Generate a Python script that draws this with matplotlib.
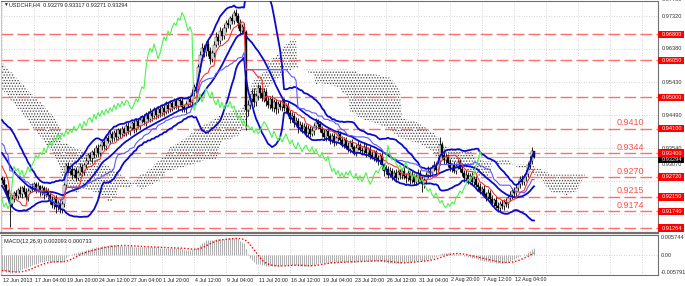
import numpy as np
import pandas as pd
import matplotlib
matplotlib.use('Agg')
import matplotlib.pyplot as plt
import matplotlib.transforms as mtrans
from matplotlib.patches import Rectangle

# 4H closes in pips (0.9262 -> 9262). pre_* = bars before the visible window (indicator warm-up)
pre_close = [9712, 9725, 9706, 9731, 9718, 9694, 9702, 9688, 9709, 9697,
             9684, 9695, 9672, 9688, 9665, 9676, 9658, 9671, 9649, 9662,
             9645, 9656, 9634, 9648, 9627, 9639, 9618, 9630, 9612, 9621,
             9604, 9615, 9592, 9601, 9583, 9594, 9571, 9580, 9562, 9570,
             9552, 9561, 9540, 9548, 9529, 9537, 9516, 9524, 9505, 9511,
             9492, 9498, 9476, 9483, 9462, 9469, 9447, 9453, 9431, 9438,
             9416, 9422, 9401, 9407, 9386, 9391, 9370, 9376, 9354, 9360,
             9338, 9344, 9322, 9328, 9306, 9311, 9291, 9296, 9278, 9270]
pre_up = [8, 12, 9, 14, 10, 7, 11, 9, 13, 8,
          10, 7, 12, 9, 8, 11, 7, 10, 9, 12,
          8, 11, 9, 7, 10, 12, 8, 9, 11, 7,
          10, 8, 12, 9, 7, 11, 10, 8, 9, 12,
          9, 7, 11, 10, 8, 12, 9, 7, 10, 11,
          8, 12, 9, 11, 7, 10, 12, 8, 9, 11,
          10, 8, 11, 9, 12, 7, 10, 9, 8, 11,
          9, 12, 8, 10, 11, 7, 9, 12, 10, 8]
pre_dn = [10, 8, 11, 9, 12, 7, 10, 9, 8, 11,
          9, 12, 8, 10, 11, 7, 9, 12, 10, 8,
          11, 9, 7, 10, 12, 8, 9, 11, 7, 10,
          8, 12, 9, 7, 11, 10, 8, 9, 12, 10,
          7, 11, 10, 8, 12, 9, 7, 10, 11, 8,
          12, 9, 11, 7, 10, 12, 8, 9, 11, 10,
          8, 11, 9, 12, 7, 10, 9, 8, 11, 9,
          12, 8, 10, 11, 7, 9, 12, 10, 8, 9]

close = [9262, 9248, 9231, 9214,
         9196, 9208, 9225,
         9218, 9236, 9224, 9241, 9229, 9215, 9232, 9244,
         9238, 9251, 9236, 9245, 9228, 9240, 9222, 9233, 9219,
         9205, 9192, 9210, 9186, 9198, 9181, 9194,
         9248, 9302, 9290,
         9296, 9278, 9291, 9270, 9284, 9301, 9287, 9306,
         9318, 9334, 9325, 9342, 9336, 9355, 9341, 9360,
         9372, 9361, 9384, 9376, 9395, 9382, 9398, 9387, 9405, 9394,
         9408, 9399, 9417, 9403, 9412, 9425, 9410, 9431, 9418, 9436,
         9442, 9428, 9451, 9437, 9456, 9445, 9462, 9449, 9466, 9454,
         9470, 9459, 9478, 9465, 9483, 9472, 9488, 9476, 9491,
         9488, 9472, 9466, 9480, 9495, 9486,
         9512, 9530, 9524,
         9585, 9621,
         9640, 9628, 9652, 9633, 9610, 9625,
         9650, 9672, 9661, 9689, 9676,
         9698, 9712, 9705, 9726, 9719,
         9742, 9731,
         9712, 9690, 9701,
         9685,
         9463,
         9478, 9495, 9510, 9486, 9502,
         9525, 9512, 9498, 9515, 9490,
         9478, 9494, 9470, 9485, 9466,
         9480, 9472, 9488, 9468, 9475,
         9455, 9438, 9446, 9425, 9433, 9412, 9420,
         9408, 9415, 9398, 9410, 9395, 9402, 9418,
         9430, 9422, 9410,
         9398, 9385, 9402, 9390, 9376, 9388, 9372, 9384, 9395, 9379,
         9366, 9378, 9361, 9352, 9370, 9358, 9344, 9356, 9363, 9350,
         9345, 9358, 9340, 9352, 9336, 9329, 9342, 9325, 9318, 9331,
         9305, 9288, 9296, 9279, 9290, 9274, 9284, 9270, 9286, 9277,
         9290, 9275, 9268, 9282, 9263, 9276, 9259, 9271, 9284, 9266, 9251, 9262,
         9278, 9290, 9283, 9297, 9305, 9292,
         9318, 9362, 9335, 9320, 9328,
         9312, 9298, 9306, 9290, 9302, 9315, 9296,
         9284, 9270, 9279, 9262, 9274, 9258, 9266, 9250,
         9242, 9231, 9238, 9222, 9215, 9226, 9210,
         9198, 9205, 9190, 9184, 9196, 9188, 9201, 9194,
         9212, 9220, 9232, 9225, 9240,
         9252, 9266, 9258, 9272, 9280,
         9305, 9318,
         9345, 9329.4]
# wick beyond the body, pips
wick_up = [6, 9, 5, 7,
           8, 10, 6,
           9, 5, 11, 6, 8, 12, 7, 5,
           10, 6, 8, 12, 5, 9, 7, 11, 6,
           8, 12, 6, 9, 7, 10, 8,
           6, 9, 14,
           8, 11, 6, 9, 7, 12, 8, 6,
           10, 7, 9, 6, 12, 8, 11, 7,
           9, 6, 10, 8, 12, 7, 9, 11, 6, 8,
           10, 7, 9, 12, 6, 8, 11, 7, 9, 10,
           8, 11, 6, 9, 12, 7, 10, 8, 6, 11,
           9, 7, 12, 8, 10, 6, 11, 9, 7,
           8, 12, 6, 10, 7, 9,
           11, 8, 10,
           9, 12,
           14, 10, 8, 12, 9, 11,
           10, 13, 8, 11, 9,
           12, 8, 10, 7, 11,
           8, 10,
           9, 12, 8,
           10,
           6,
           14, 10, 12, 16, 9,
           12, 9, 14, 10, 8,
           11, 8, 13, 9, 10,
           9, 12, 7, 10, 8,
           11, 8, 12, 9, 10, 7, 12,
           9, 11, 8, 10, 7, 12, 9,
           10, 8, 11,
           9, 12, 7, 10, 8, 11, 9, 6, 10, 8,
           11, 7, 9, 12, 8, 10, 6, 9, 11, 7,
           8, 10, 12, 7, 9, 11, 6, 8, 10, 9,
           12, 8, 10, 7, 11, 9, 8, 12, 6, 10,
           9, 11, 7, 10, 8, 12, 6, 9, 11, 8, 10, 7,
           9, 12, 8, 10, 14, 9,
           11, 24, 10, 8, 12,
           9, 11, 7, 12, 8, 10, 9,
           10, 8, 12, 7, 9, 11, 8, 10,
           9, 12, 7, 10, 8, 11, 9,
           10, 8, 12, 9, 7, 11, 8, 10,
           9, 12, 8, 10, 11,
           8, 10, 12, 9, 11,
           10, 14,
           12, 2]
wick_dn = [8, 6, 10, 7,
           66, 9, 7,
           6, 10, 8, 12, 7, 9, 11, 6,
           9, 7, 11, 6, 10, 8, 12, 7, 9,
           10, 8, 12, 16, 9, 11, 12,
           7, 10, 8,
           9, 12, 7, 10, 8, 6, 11, 9,
           8, 10, 7, 12, 9, 6, 11, 8,
           10, 8, 12, 7, 9, 11, 6, 10, 8, 12,
           7, 9, 11, 8, 10, 6, 12, 9, 7, 10,
           11, 8, 10, 7, 9, 12, 6, 10, 8, 11,
           9, 12, 7, 10, 8, 11, 6, 9, 12,
           10, 14, 8, 11, 9, 7,
           12, 9, 11,
           10, 13,
           9, 12, 10, 14, 16, 9,
           11, 8, 13, 10, 12,
           9, 12, 8, 10, 9,
           10, 12,
           14, 11, 9,
           12,
           58,
           16, 12, 10, 14, 11,
           9, 13, 10, 12, 14,
           10, 12, 9, 11, 13,
           12, 9, 11, 8, 10,
           10, 12, 9, 11, 8, 13, 9,
           11, 8, 12, 9, 10, 7, 11,
           9, 12, 10,
           11, 8, 10, 12, 9, 7, 11, 10, 8, 12,
           9, 11, 8, 10, 12, 7, 9, 11, 8, 10,
           10, 8, 11, 9, 12, 7, 10, 9, 11, 8,
           9, 12, 8, 10, 7, 11, 9, 12, 8, 10,
           11, 9, 12, 8, 10, 7, 11, 9, 12, 8, 22, 10,
           10, 8, 11, 9, 7, 12,
           9, 11, 8, 12, 10,
           11, 9, 12, 8, 10, 7, 11,
           9, 12, 8, 10, 11, 9, 12, 8,
           10, 9, 12, 8, 11, 9, 10,
           9, 11, 8, 12, 10, 9, 11, 8,
           10, 8, 11, 9, 12,
           9, 11, 8, 10, 12,
           9, 11,
           8, 2.3]

date_labels = ['12 Jun 2013', '17 Jun 04:00', '19 Jun 20:00', '24 Jun 12:00', '27 Jun 04:00',
               '1 Jul 20:00', '4 Jul 12:00', '9 Jul 04:00', '11 Jul 20:00', '16 Jul 12:00',
               '19 Jul 04:00', '23 Jul 20:00', '26 Jul 12:00', '31 Jul 04:00', '2 Aug 20:00',
               '7 Aug 12:00', '12 Aug 04:00']
levels = [0.9680, 0.9605, 0.9500, 0.9410, 0.9340, 0.9272, 0.9215, 0.9174, 0.9126]
level_tags = ['0.96800', '0.96050', '0.95000', '0.94100', '0.93400', '0.92720', '0.92150', '0.91740', '0.91264']
level_notes = ['', '', '', '0.9410', '0.9344', '0.9270', '0.9215', '0.9174', '']
grid_prices = [0.9732, 0.9638, 0.9543, 0.9449, 0.9354, 0.9260, 0.9165]
price_ticks = [0.97780, 0.97320, 0.96380, 0.95430, 0.94490, 0.93540, 0.93070]
bid = 0.93294

# series
c = np.array(pre_close + close) / 10000
up = np.array(pre_up + wick_up) / 10000
dn = np.array(pre_dn + wick_dn) / 10000
o = np.r_[c[0], c[:-1]]
h = np.maximum(o, c) + up
l = np.minimum(o, c) - dn
x = np.arange(len(c)) - len(pre_close)
vis = x >= 0

s, hs, ls = pd.Series(c), pd.Series(h), pd.Series(l)
bb_mid = s.rolling(20).mean().values
bb_sd = s.rolling(20).std(ddof=0).values
tenkan = ((hs.rolling(9).max() + ls.rolling(9).min()) / 2).values
kijun = ((hs.rolling(26).max() + ls.rolling(26).min()) / 2).values
span_a = (tenkan + kijun) / 2
span_b = ((hs.rolling(52).max() + ls.rolling(52).min()) / 2).values
macd_s = s.ewm(span=12, adjust=False).mean() - s.ewm(span=26, adjust=False).mean()
macd = macd_s.values
signal = macd_s.rolling(9).mean().values

plt.rcParams['font.family'] = ['Liberation Sans', 'DejaVu Sans']
plt.rcParams['hatch.linewidth'] = 0.6

fig = plt.figure(figsize=(6.85, 2.86), dpi=100)
ax = fig.add_axes([1 / 685, 1 - 233 / 286, 657 / 685, 232 / 286])
axm = fig.add_axes([1 / 685, 1 - 275 / 286, 657 / 685, 40 / 286])
for a in (ax, axm):
    a.set_xlim(-0.5, 328)
    a.set_xticks([])
    a.set_yticks([])
    for sp in a.spines.values():
        sp.set_color('#707070')
        sp.set_linewidth(0.8)
    a.spines['left'].set_color('#c8c8c8')
    for k in range(21):
        a.axvline(16 * k, color='#c8c8c8', lw=0.6, ls=(0, (1, 2)), zorder=0)
ax.spines['bottom'].set_linewidth(1.6)
ax.set_ylim(0.911182, 0.977487)
axm.set_ylim(-0.00653, 0.00661)

for g in grid_prices:
    ax.axhline(g, color='#c8c8c8', lw=0.6, ls=(0, (1, 2)), zorder=0)
axm.axhline(0, color='#c8c8c8', lw=0.6, ls=(0, (1, 2)), zorder=0)
ax.axhline(bid, color='#c0c0c0', lw=0.8, zorder=1)

# ichimoku cloud (shifted forward 26 bars)
ok = (x + 26 >= 0) & ~np.isnan(span_b)
ax.fill_between(x[ok] + 26, span_a[ok], span_b[ok], facecolor='none', edgecolor='#404040',
                hatch='......', linewidth=0, zorder=1)

# support / resistance levels
for lv in levels:
    ax.axhline(lv, color='#ff6f6f', lw=1.0, ls=(0, (8.5, 3)), zorder=2)

# candles
xv, ov, cv, hv, lv_ = x[vis], o[vis], c[vis], h[vis], l[vis]
ax.vlines(xv, lv_, hv, colors='black', linewidth=0.6, zorder=3)
ax.bar(xv, np.maximum(np.abs(cv - ov), 0.00002), bottom=np.minimum(ov, cv), width=0.6,
       color=np.where(cv >= ov, 'white', 'black'), edgecolor='black', linewidth=0.3, zorder=4)

# indicators
ax.plot(x[vis], (bb_mid + 2 * bb_sd)[vis], color='#0a0acd', lw=1.3, zorder=5)
ax.plot(x[vis], bb_mid[vis], color='#0a0acd', lw=1.3, zorder=5)
ax.plot(x[vis], (bb_mid - 2 * bb_sd)[vis], color='#0a0acd', lw=1.3, zorder=5)
ax.plot(x[vis], kijun[vis], color='#5a5aff', lw=0.8, zorder=5)
ax.plot(x[vis], tenkan[vis], color='#ff3030', lw=0.8, zorder=5)
chik = x >= 26
ax.plot(x[chik] - 26, c[chik], color='#50f050', lw=0.8, zorder=5)

# macd
axm.vlines(x[vis], 0, macd[vis], colors='#b0b0b0', linewidth=0.75, zorder=2)
axm.plot(x[vis], signal[vis], color='#ff0000', lw=1.0, ls=(0, (1, 1.4)), zorder=3)

# texts
tr_r = mtrans.blended_transform_factory(fig.transFigure, ax.transData)
tr_m = mtrans.blended_transform_factory(fig.transFigure, axm.transData)
tr_b = mtrans.blended_transform_factory(ax.transData, fig.transFigure)
fs = 4.1
for p in price_ticks:
    fig.text(0.9655, p, '%.5f' % p, transform=tr_r, fontsize=fs, color='#303030', va='center')
fig.add_artist(Rectangle((0.9613, bid - 0.00185), 0.0372, 0.0021, transform=tr_r,
                         facecolor='black', edgecolor='none'))
fig.text(0.9655, bid - 0.0008, '%.5f' % bid, transform=tr_r, fontsize=fs, color='white', va='center')
for lv, tag, note in zip(levels, level_tags, level_notes):
    fig.add_artist(Rectangle((0.9613, lv - 0.00105), 0.0372, 0.0021, transform=tr_r,
                             facecolor='#ff0000', edgecolor='none'))
    fig.text(0.9655, lv, tag, transform=tr_r, fontsize=fs, color='white', va='center')
    if note:
        ax.text(314, lv + 0.0017, note, fontsize=6.5, color='#ff5050', ha='center', va='center')

for v, t in [(0.005744, '0.005744'), (0.0, '0.00'), (-0.005791, '-0.005791')]:
    fig.text(0.964, v, t, transform=tr_m, fontsize=fs, color='#303030', va='center')
for k, t in enumerate(date_labels):
    fig.text(16 * k + 0.3, 1 - 280 / 286, t, transform=tr_b, fontsize=3.8, color='#202020', va='center')

fig.text(3 / 685, 1 - 4.5 / 286, '\u25bc', fontsize=3.5, color='#202020', va='center')
fig.text(9 / 685, 1 - 4.5 / 286, 'USDCHF,H4  0.93279 0.93317 0.93271 0.93294', fontsize=4.0,
         color='#202020', va='center')
fig.text(4 / 685, 1 - 241 / 286, 'MACD(12,26,9) 0.002093 0.000733', fontsize=4.0,
         color='#202020', va='center')

fig.savefig('out.png', dpi=100)
